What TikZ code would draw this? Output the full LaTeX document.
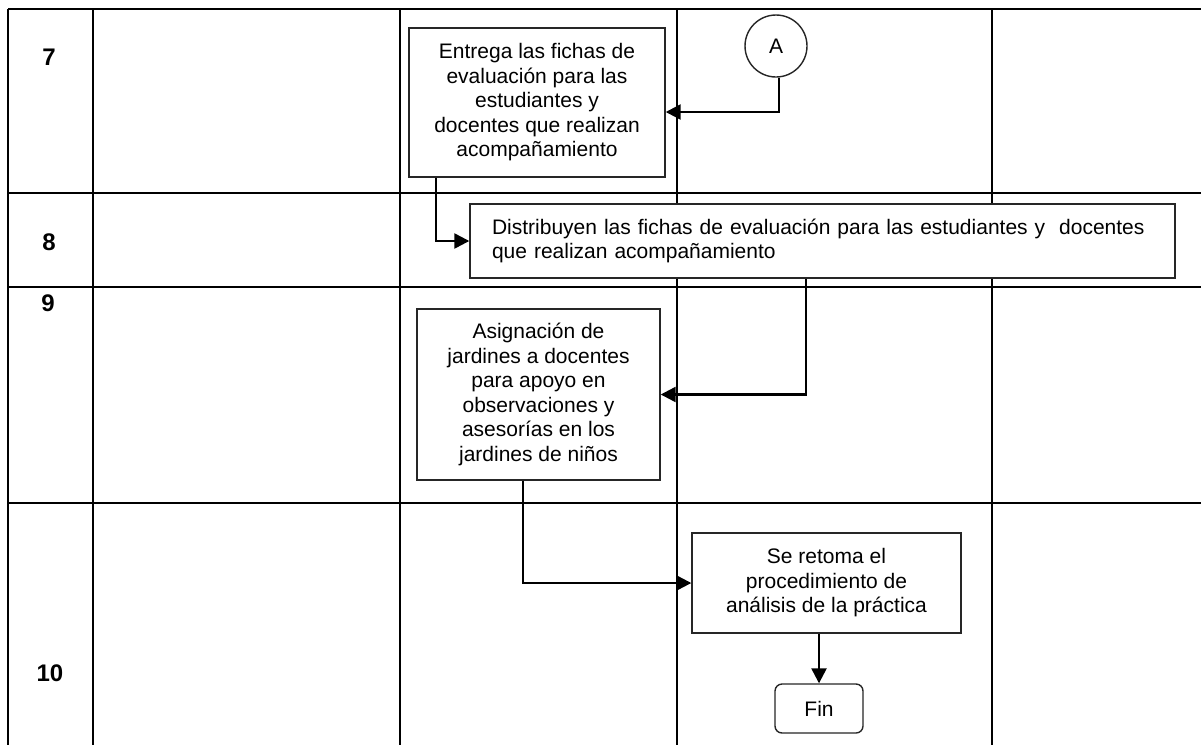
\documentclass[tikz,border=0pt]{standalone}
\usepackage{fontspec}
\setmainfont{Liberation Sans}
\usetikzlibrary{arrows.meta,calc}
\tikzset {>={Triangle[length=15pt,width=15pt]}}

\begin{document}
\begin{tikzpicture}[x=1pt,y=-1pt,
  rejilla/.style={line width=2pt},
  paso/.style={draw=black!85,line width=1.4pt,fill=white,inner sep=0pt,align=center,font=\fontsize{21}{24.5}\selectfont},
  flecha/.style={->,line width=2.4pt},
  num/.style={font=\fontsize{24}{26}\selectfont\bfseries}]
\useasboundingbox (0,0) rectangle (1201,745);
% tabla
\foreach \x in {8,93,400,677,992} \draw[rejilla] (\x,9) -- (\x,745);
\foreach \y in {9,193,287,503} \draw[rejilla] (8,\y) -- (1201,\y);
\node[num] (n7) at (49,57) {7};
\node[num] (n8) at (49,242) {8};
\node[num] (n9) at (48,303) {9};
\node[num] (n10) at (50,673) {10};
% pasos
\node[paso,minimum width=256pt,minimum height=149pt] (entrega) at (537,102.5)
  {Entrega las fichas de\\evaluación para las\\estudiantes y\\docentes que realizan\\acompañamiento};
\node[paso,circle,minimum size=62pt] (A) at (776,46) {A};
\node[paso,align=left,text width=661pt,minimum width=705pt,minimum height=74pt] (distribuyen) at (822.5,241)
  {Distribuyen las fichas de evaluación para las estudiantes y~ docentes\\que realizan acompañamiento};
\node[paso,minimum width=243pt,minimum height=171pt] (asignacion) at (538.5,394.5)
  {Asignación de\\jardines a docentes\\para apoyo en\\observaciones y\\asesorías en los\\jardines de niños};
\node[paso,minimum width=269pt,minimum height=100pt] (retoma) at (826.5,583)
  {Se retoma el\\procedimiento de\\análisis de la práctica};
\node[paso,rounded corners=7pt,minimum width=88pt,minimum height=49pt] (fin) at (819,708.5) {Fin};
% conectores
\draw[flecha] ([xshift=3pt]A.south) |- ([yshift=-9.5pt]entrega.east);
\draw[flecha] ([xshift=-101pt]entrega.south) |- (distribuyen.west);
\draw[flecha] ([xshift=-16.5pt]distribuyen.south) |- (asignacion.east);
\draw[flecha] ([xshift=-15.5pt]asignacion.south) |- (retoma.west);
\draw[flecha] (retoma.south -| fin.north) -- (fin.north);
\end{tikzpicture}
\end{document}
